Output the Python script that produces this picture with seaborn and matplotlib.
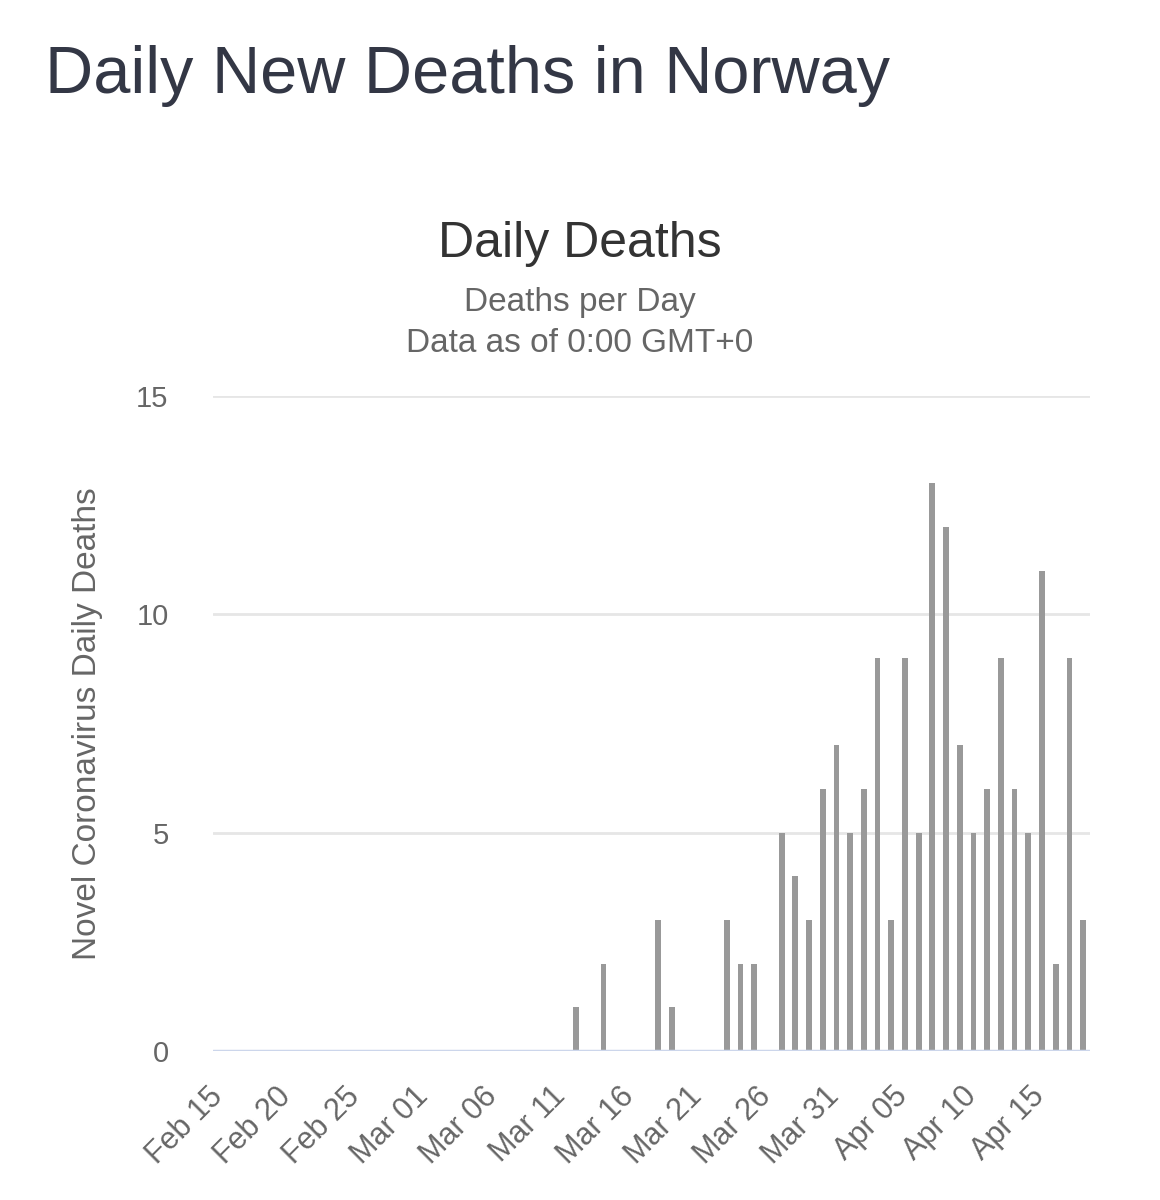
import seaborn as sns
import matplotlib.pyplot as plt
import matplotlib.transforms as mtransforms
import pandas as pd

# daily deaths in Norway, Feb 15 - Apr 18 (2020)
dates = pd.date_range('2020-02-15', '2020-04-18', freq='D')
deaths = [0, 0, 0, 0, 0, 0, 0, 0, 0, 0, 0, 0, 0, 0, 0,      # Feb 15-29
          0, 0, 0, 0, 0, 0, 0, 0, 0, 0, 0,                  # Mar 01-11
          1, 0, 2, 0, 0, 0, 3, 1, 0, 0, 0,                  # Mar 12-22
          3, 2, 2, 0, 5, 4, 3, 6, 7,                        # Mar 23-31
          5, 6, 9, 3, 9, 5, 13, 12, 7, 5,                   # Apr 01-10
          6, 9, 6, 5, 11, 2, 9, 3]                          # Apr 11-18
y_ticks = [0, 5, 10, 15]

df = pd.DataFrame({'Date': dates.strftime('%b %d'), 'Deaths': deaths})

sns.set_style('white')
plt.rcParams['font.family'] = ['Liberation Sans', 'DejaVu Sans']

fig = plt.figure(figsize=(11.6, 12), dpi=100)
ax = fig.add_axes([0.1836, 0.1242, 0.7560, 0.5458])

sns.barplot(data=df, x='Date', y='Deaths', color='#999999', saturation=1,
            width=0.42, linewidth=0, ax=ax, zorder=3)

ax.set_xlim(-0.5, len(deaths) - 0.5)
ax.set_ylim(0, 15)
ax.set_yticks(y_ticks)
ax.set_yticklabels([str(t) for t in y_ticks], fontsize=21, color='#666666')
tick_pos = list(range(0, len(deaths), 5))
ax.set_xticks(tick_pos)
ax.set_xticklabels([df['Date'][i] for i in tick_pos], rotation=45, ha='right',
                   va='top', fontsize=22, color='#666666')
ax.tick_params(axis='x', length=0, pad=22)
ax.tick_params(axis='y', length=0, pad=32)
# nudge date labels so their upper end sits on the tick
shift = mtransforms.ScaledTranslation(0.09, 0, fig.dpi_scale_trans)
for lbl in ax.get_xticklabels():
    lbl.set_transform(lbl.get_transform() + shift)

for t in y_ticks[1:]:
    ax.axhline(t, color='#e6e6e6', lw=2, zorder=1)
ax.axhline(0, color='#ccd6eb', lw=2.5, zorder=4)
for s in ax.spines.values():
    s.set_visible(False)

ax.set_xlabel('')
ax.set_ylabel('Novel Coronavirus Daily Deaths', fontsize=24, color='#666666', labelpad=24)

fig.text(0.039, 0.937, 'Daily New Deaths in Norway', fontsize=48, color='#333745',
         ha='left', va='center')
fig.text(0.5, 0.797, 'Daily Deaths', fontsize=36, color='#333333', ha='center', va='center')
fig.text(0.5, 0.748, 'Deaths per Day', fontsize=24, color='#666666', ha='center', va='center')
fig.text(0.5, 0.714, 'Data as of 0:00 GMT+0', fontsize=24, color='#666666', ha='center', va='center')

fig.savefig('out.png', dpi=100, facecolor='white')
